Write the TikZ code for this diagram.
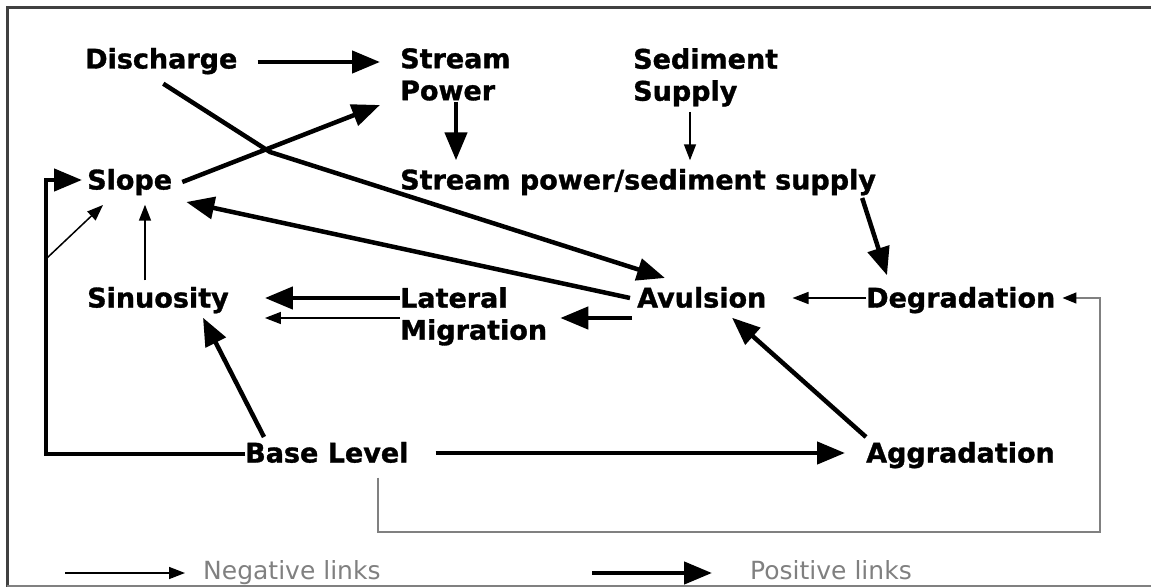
\documentclass[tikz,border=0pt]{standalone}
\usepackage{fontspec}
\setmainfont[BoldFeatures={FakeBold=1.2}]{DejaVu Sans}
\usetikzlibrary{arrows.meta}
\begin{document}
\begin{tikzpicture}[x=1pt,y=-1pt,
  lbl/.style={font=\bfseries\fontsize{27}{32}\selectfont, inner sep=0pt, anchor=west, text height=19pt, text depth=0pt},
  lbltwo/.style={font=\bfseries\fontsize{27}{32}\selectfont, inner sep=0pt, anchor=north west, align=left},
  leg/.style={font=\fontsize{25}{30}\selectfont, text=gray, inner sep=0pt, anchor=west, text height=18pt, text depth=0pt},
  poslink/.style={line width=4.5pt, -{Triangle[length=28pt,width=22pt]}},
  neglink/.style={line width=1.5pt, -{Triangle[length=16pt,width=12pt]}},
  loopline/.style={draw=gray, line width=1.6pt, -{Triangle[length=14pt,width=11pt,color=black]}}]
\useasboundingbox (0,0) rectangle (1151,588);
% frame
\draw[line width=3pt, black!75] (1151,8) -- (7,8) -- (7,587);
\draw[line width=2pt, gray] (7,586) -- (1151,586);
% factors
\node[lbl] (dis) at (85,59) {Discharge};
\node[lbltwo] (sp) at (400,48) {Stream\\Power};
\node[lbltwo] (ss) at (633,48) {Sediment\\Supply};
\node[lbl] (ratio) at (400,180) {Stream power/sediment supply};
\node[lbl] (slope) at (87,180) {Slope};
\node[lbl] (sin) at (87,298) {Sinuosity};
\node[lbltwo] (lat) at (400,287) {Lateral\\Migration};
\node[lbl] (avu) at (637,298) {Avulsion};
\node[lbl] (deg) at (866,298) {Degradation};
\node[lbl] (base) at (245,453) {Base Level};
\node[lbl] (agg) at (866,453) {Aggradation};
\coordinate (kink) at (270,152);
\coordinate (branch) at (47,258);
\coordinate (loopr) at (1100,532);
% links
\draw[poslink] ([xshift=20pt,yshift=-3pt]dis.east) -- ([xshift=-20pt,yshift=-14pt]sp.north west);
\draw[poslink] ([xshift=56pt,yshift=-54pt]sp.north west) -- ([xshift=56pt,yshift=10pt]ratio.north west);
\draw[neglink] ([xshift=57pt,yshift=-64pt]ss.north west) -- ([xshift=290pt,yshift=10pt]ratio.north west);
\draw[poslink] ([xshift=10pt,yshift=-2pt]slope.east) -- ([xshift=-20pt,yshift=-57pt]sp.north west);
\draw[poslink] ([xshift=2pt,yshift=-15pt]dis.south) -- (kink) -- ([xshift=28pt,yshift=20pt]avu.west);
\draw[poslink] ([xshift=-7pt]avu.west) -- ([xshift=14pt,yshift=-22pt]slope.east);
\draw[neglink] ([xshift=58pt,yshift=8pt]sin.north west) -- ([xshift=58pt,yshift=-15pt]slope.south west);
\draw[poslink] ([yshift=-1pt]base.west) -| ([xshift=-41pt]slope.west) -- ([xshift=-5pt]slope.west);
\draw[neglink] (branch) -- ([xshift=16pt,yshift=-25pt]slope.west);
\draw[poslink] ([yshift=-11pt]lat.north west) -- ([xshift=36pt]sin.east);
\draw[neglink] ([yshift=-31pt]lat.north west) -- ([xshift=36pt,yshift=-20pt]sin.east);
\draw[poslink] ([xshift=-5pt,yshift=-20pt]avu.west) -- ([xshift=13pt,yshift=-31pt]lat.north east);
\draw[neglink] (deg.west) -- ([xshift=26pt]avu.east);
\draw[loopline] ([xshift=133pt,yshift=-15pt]base.south west) |- (loopr) |- ([xshift=7pt]deg.east);
\draw[poslink] ([xshift=-14pt,yshift=-18pt]ratio.east) -- ([xshift=21pt,yshift=13pt]deg.north west);
\draw[poslink] ([yshift=16pt]agg.west) -- ([xshift=95pt,yshift=-10pt]avu.south west);
\draw[poslink] ([xshift=19pt,yshift=16pt]base.west) -- ([xshift=116pt,yshift=-10pt]sin.south west);
\draw[poslink] ([xshift=27pt]base.east) -- ([xshift=-21pt]agg.west);
% legend
\node[leg] (negleg) at (203,570) {Negative links};
\node[leg] (posleg) at (750,570) {Positive links};
\draw[neglink] ([xshift=-138pt,yshift=-3pt]negleg.west) -- ([xshift=-18pt,yshift=-3pt]negleg.west);
\draw[poslink] ([xshift=-158pt,yshift=-3pt]posleg.west) -- ([xshift=-38pt,yshift=-3pt]posleg.west);
\end{tikzpicture}
\end{document}
